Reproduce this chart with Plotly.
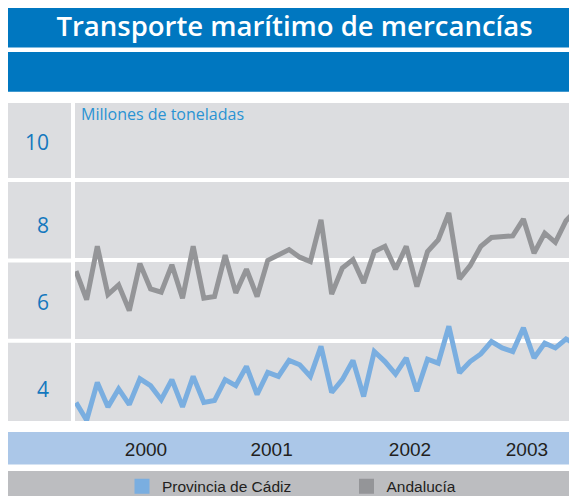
import plotly.graph_objects as go

# ---------------- data ----------------
months = list(range(48))  # monthly, Jan 2000 .. Dec 2003
andalucia = [6.73, 6.02, 7.35, 6.15, 6.39, 5.75, 6.92, 6.29, 6.21, 6.89, 6.06, 7.35,
             6.06, 6.10, 7.13, 6.19, 6.78, 6.10, 7.00, 7.12, 7.27, 7.08, 6.97, 8.01,
             6.16, 6.81, 7.02, 6.44, 7.22, 7.35, 6.78, 7.35, 6.35, 7.22, 7.51, 8.18,
             6.54, 6.87, 7.35, 7.57, 7.60, 7.61, 8.03, 7.18, 7.68, 7.45, 7.99, 8.26]
cadiz = [3.46, 3.02, 3.96, 3.35, 3.80, 3.41, 4.05, 3.88, 3.53, 4.03, 3.35, 4.11,
         3.46, 3.51, 4.03, 3.88, 4.36, 3.66, 4.21, 4.11, 4.51, 4.40, 4.11, 4.86,
         3.71, 4.03, 4.51, 3.61, 4.73, 4.48, 4.17, 4.57, 3.74, 4.54, 4.44, 5.36,
         4.20, 4.48, 4.67, 4.98, 4.82, 4.73, 5.32, 4.57, 4.94, 4.82, 5.04, 4.90]
year_labels = ["2000", "2001", "2002", "2003"]
year_tick_pos = [6.57, 18.36, 31.35, 42.33]
y_labels = ["10", "8", "6", "4"]
y_label_pos = [9.93, 7.87, 5.94, 3.78]
band_edges = [5, 7, 9]
series_names = ["Provincia de Cádiz", "Andalucía"]

# ---------------- layout geometry (figure pixels; page has 8px body margin) ----------------
OFF = 8
W, H = 569, 488
ML, MT = 67, 95
PW, PH = 502, 318
MR, MB = W - ML - PW, H - MT - PH
Y_RANGE = [3.0, 10.92]
X_RANGE = [-0.094, 47.03]

BLUE_BAND = "#0077c0"
PANEL = "#dcdde0"
YEAR_BAND = "#abc7e8"
LEG_BAND = "#bcbdc0"
C_CADIZ = "#7aaee0"
C_AND = "#949598"
SANS = "Liberation Sans, Arial, sans-serif"
HUMAN = "Open Sans, Noto Sans, sans-serif"


def px_x(sx):
    """screen x -> paper x"""
    return (sx - OFF - ML) / PW


def px_y(sy):
    """screen y -> paper y"""
    return (MT + PH - (sy - OFF)) / PH


def val_to_paper(v):
    return (v - Y_RANGE[0]) / (Y_RANGE[1] - Y_RANGE[0])


fig = go.Figure()
colors = [C_CADIZ, C_AND]
for name, vals, col in zip(series_names, [cadiz, andalucia], colors):
    fig.add_trace(go.Scatter(x=months, y=vals, mode="lines", name=name,
                             line=dict(color=col, width=5), showlegend=False,
                             hoverinfo="skip"))
# legend entries (square swatches)
for i, (name, col) in enumerate(zip(series_names, colors)):
    fig.add_trace(go.Scatter(x=[None], y=[None], mode="markers", name=name,
                             marker=dict(symbol="square", size=15, color=col),
                             legend="legend" if i == 0 else "legend2"))

LEFT = px_x(OFF)
shapes = []
# title bands
shapes.append(dict(type="rect", xref="paper", yref="paper", x0=LEFT, x1=1.02,
                   y0=px_y(47.5), y1=px_y(8), fillcolor=BLUE_BAND, line_width=0, layer="below"))
shapes.append(dict(type="rect", xref="paper", yref="paper", x0=LEFT, x1=1.02,
                   y0=px_y(91.7), y1=px_y(52), fillcolor=BLUE_BAND, line_width=0, layer="below"))
# left label column panels
gap = 2 / PH
edges = [0] + [val_to_paper(v) for v in band_edges] + [1]
for a, b in zip(edges[:-1], edges[1:]):
    y0 = a + (gap if a > 0 else 0)
    y1 = b - (gap if b < 1 else 0)
    shapes.append(dict(type="rect", xref="paper", yref="paper", x0=LEFT, x1=px_x(71),
                       y0=y0, y1=y1, fillcolor=PANEL, line_width=0, layer="below"))
# year band and legend band
shapes.append(dict(type="rect", xref="paper", yref="paper", x0=LEFT, x1=1.02,
                   y0=px_y(464.5), y1=px_y(432), fillcolor=YEAR_BAND, line_width=0, layer="below"))
shapes.append(dict(type="rect", xref="paper", yref="paper", x0=LEFT, x1=1.02,
                   y0=px_y(510), y1=px_y(471), fillcolor=LEG_BAND, line_width=0, layer="below"))

fig.update_layout(
    width=W, height=H,
    margin=dict(l=ML, r=MR, t=MT, b=MB, pad=0, autoexpand=False),
    paper_bgcolor="white", plot_bgcolor=PANEL,
    shapes=shapes,
    title=dict(text="Transporte marítimo de mercancías", x=(294.5 - OFF) / W, xanchor="center",
               y=1 - (26 - OFF) / H, yanchor="middle", yref="container",
               font=dict(family=HUMAN, size=27.5, color="white", weight=600)),
    xaxis=dict(range=X_RANGE, showgrid=False, zeroline=False, showline=False,
               tickmode="array", tickvals=year_tick_pos, ticktext=year_labels,
               ticks="", ticklabelstandoff=15,
               tickfont=dict(family=SANS, size=19, color="#231f20")),
    yaxis=dict(range=Y_RANGE, showgrid=False, zeroline=False, showline=False,
               tickmode="array", tickvals=y_label_pos, ticktext=y_labels,
               ticks="", ticklabelstandoff=25,
               tickfont=dict(family=HUMAN, size=21, color="#1478be"),
               minor=dict(tickvals=band_edges, showgrid=True, gridcolor="white",
                          gridwidth=4, ticks="")),
    legend=dict(orientation="h", x=px_x(122), xanchor="left", y=px_y(486.7), yanchor="middle",
                bgcolor="rgba(0,0,0,0)", font=dict(family=SANS, size=15.5, color="#231f20")),
    legend2=dict(orientation="h", x=px_x(346.5), xanchor="left", y=px_y(486.7), yanchor="middle",
                 bgcolor="rgba(0,0,0,0)", font=dict(family=SANS, size=15.5, color="#231f20")),
    annotations=[dict(text="Millones de toneladas", xref="paper", yref="paper",
                      x=px_x(78.7), y=1 + 2 / PH, xanchor="left", yanchor="top",
                      showarrow=False,
                      font=dict(family=HUMAN, size=16, color="#2a93d3"))],
)

fig.write_html("out.html")
